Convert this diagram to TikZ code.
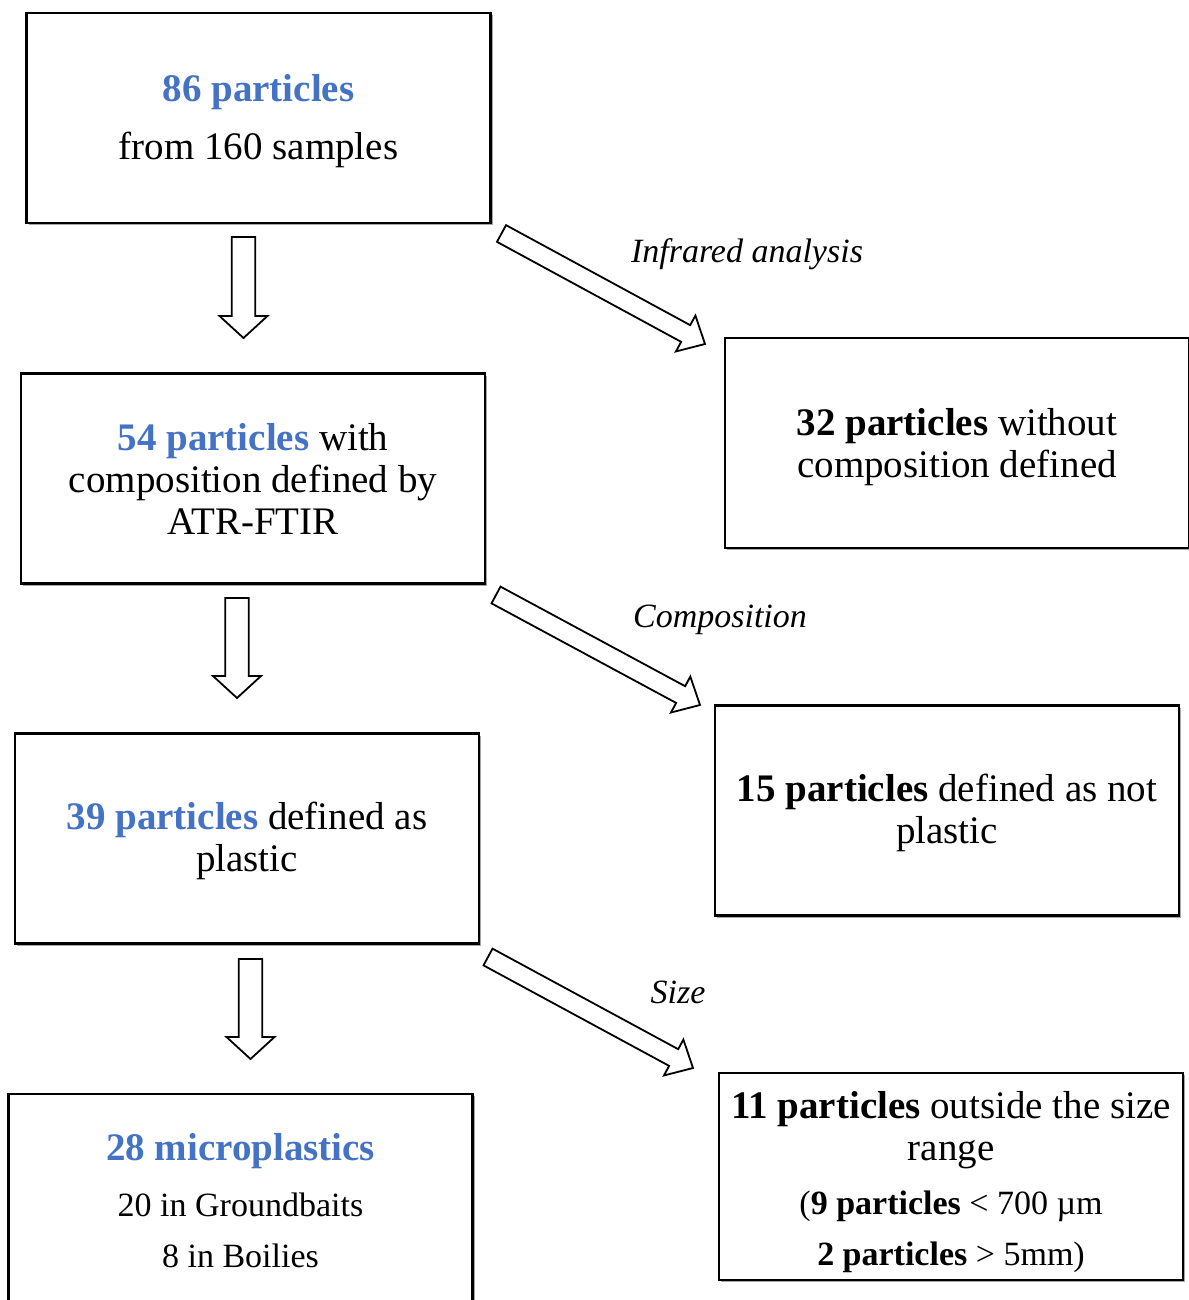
\documentclass[tikz,border=0pt]{standalone}
\usepackage{fontspec}
\setmainfont{Liberation Serif}
\usetikzlibrary{calc,shadows}
\definecolor{hlblue}{HTML}{4472C4}
% #1 tail, #2 tip, #3 shaft half width, #4 head half width, #5 head length
\newcommand\blockarrow[5]{%
  \coordinate (ba-hb) at ($(#2)!#5!(#1)$);
  \draw[blockarr] ($(#1)!#3!90:(#2)$) -- ($(ba-hb)!#3!90:(#2)$) -- ($(ba-hb)!#4!90:(#2)$) -- (#2)
     -- ($(ba-hb)!#4!-90:(#2)$) -- ($(ba-hb)!#3!-90:(#2)$) -- ($(#1)!#3!-90:(#2)$) -- cycle;}
% strut on the first line: pushes the text block down by #1 px
\newcommand\tfix[1]{\rule{0pt}{\dimexpr 13.4pt+#1pt\relax}}
\newcommand\smallline{\fontsize{17}{21}\selectfont}
\begin{document}
\begin{tikzpicture}[x=0.5pt,y=-0.5pt,
  box/.style={draw, line width=1.1pt, fill=white, minimum width=232pt, minimum height=105pt,
    align=center, inner sep=0pt, font=\fontsize{19.5}{21}\selectfont,
    drop shadow={shadow xshift=1pt, shadow yshift=-1.2pt, opacity=0.35, fill=black}},
  lbl/.style={font=\fontsize{17}{20}\selectfont\itshape, inner sep=0pt},
  blockarr/.style={draw, line width=0.9pt, fill=white, line join=miter}]
\useasboundingbox (0,0) rectangle (1188,1300);
\fill[white] (0,0) rectangle (1188,1300);

\node[box] (b1) at (258.5,118) {\tfix{3}\textbf{\color{hlblue}86 particles}\\[8pt]from 160 samples};
\node[box] (b2) at (253,478.5) {\textbf{\color{hlblue}54 particles} with\\composition defined by\\ATR-FTIR};
\node[box] (b3) at (247,838.5) {\tfix{3}\textbf{\color{hlblue}39 particles} defined as\\plastic};
\node[box] (b4) at (240.5,1199) {\tfix{2}\textbf{\color{hlblue}28 microplastics}\\[7pt]{\smallline 20 in Groundbaits}\\[4.5pt]{\smallline 8 in Boilies}};
\node[box] (r1) at (957,443) {\tfix{4}\textbf{32 particles} without\\composition defined};
\node[box] (r2) at (947,810.5) {\tfix{3}\textbf{15 particles} defined as not\\plastic};
\node[box, minimum height=103.5pt] (r3) at (951,1176.5) {\tfix{6}\textbf{11 particles} outside the size\\range\\[6pt]{\smallline (\textbf{9 particles} < 700 µm}\\[4.5pt]{\smallline\textbf{2 particles} > 5mm)}};

\node[lbl] (l1) at (747,254) {Infrared analysis};
\node[lbl] (l2) at (720,620) {Composition};
\node[lbl] (l3) at (678,992) {Size};

\coordinate (d1s) at (243.5,237);  \coordinate (d1e) at (243.5,338);
\coordinate (d2s) at (237,598);    \coordinate (d2e) at (237,698);
\coordinate (d3s) at (250.5,959);  \coordinate (d3e) at (250.5,1059);
\coordinate (g1s) at (501.5,233.5); \coordinate (g1e) at (705,344);
\coordinate (g2s) at (496,595);    \coordinate (g2e) at (700,705);
\coordinate (g3s) at (488,957);    \coordinate (g3e) at (693,1068);

\blockarrow{d1s}{d1e}{5.9pt}{12pt}{11pt}
\blockarrow{d2s}{d2e}{5.9pt}{12pt}{11pt}
\blockarrow{d3s}{d3e}{5.9pt}{12pt}{11pt}
\blockarrow{g1s}{g1e}{4.75pt}{10.2pt}{11pt}
\blockarrow{g2s}{g2e}{4.75pt}{10.2pt}{11pt}
\blockarrow{g3s}{g3e}{4.75pt}{10.2pt}{11pt}
\end{tikzpicture}
\end{document}
